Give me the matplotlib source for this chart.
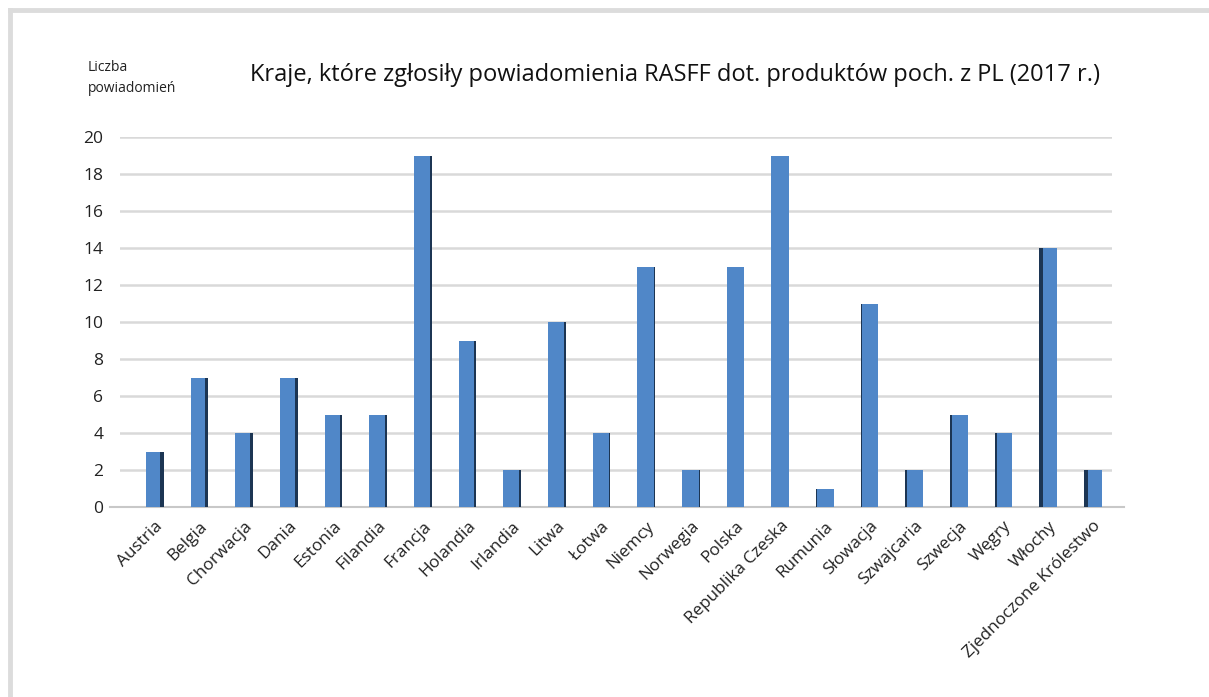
import matplotlib
matplotlib.use("Agg")
import matplotlib.pyplot as plt
from matplotlib.patches import Rectangle
from matplotlib.lines import Line2D

countries = ["Austria", "Belgia", "Chorwacja", "Dania", "Estonia", "Filandia",
             "Francja", "Holandia", "Irlandia", "Litwa", "Łotwa", "Niemcy",
             "Norwegia", "Polska", "Republika Czeska", "Rumunia", "Słowacja",
             "Szwajcaria", "Szwecja", "Węgry", "Włochy", "Zjednoczone Królestwo"]
values = [3, 7, 4, 7, 5, 5, 19, 9, 2, 10, 4, 13, 2, 13, 19, 1, 11, 2, 5, 4, 14, 2]
y_ticks = [0, 2, 4, 6, 8, 10, 12, 14, 16, 18, 20]

title = "Kraje, które zgłosiły powiadomienia RASFF dot. produktów poch. z PL (2017 r.)"
y_label = "Liczba\npowiadomień"

W, H = 1209, 697
fig = plt.figure(figsize=(W / 100, H / 100), dpi=100)
fig.patch.set_facecolor("white")

# outer frame (top and left edges)
fig.add_artist(Line2D([10 / W, 1.0], [1 - 10 / H, 1 - 10 / H], color="#DCDCDC", lw=3.5,
                      transform=fig.transFigure))
fig.add_artist(Line2D([10 / W, 10 / W], [0, 1 - 10 / H], color="#DCDCDC", lw=3.5,
                      transform=fig.transFigure))

left, right = 120, 1112
bottom, top = 507, 137
ax = fig.add_axes([left / W, 1 - bottom / H, (right - left) / W, (bottom - top) / H])

x = list(range(len(countries)))
bw = 0.40
face = "#5087C8"
dark = "#1C3553"

ax.bar(x, values, width=bw, color=face, zorder=3, edgecolor="none")

# dark side strips imitating the 3-D look
px = 1.0 / 44.67
for i, v in enumerate(values):
    c = 13.5
    if i < c:
        sw = 4 * (c - i) / c
        x0 = i + bw / 2 - sw * px
    else:
        sw = 4 * (i - c) / 7.5
        x0 = i - bw / 2
    if sw > 0.3:
        ax.add_patch(Rectangle((x0, 0), sw * px, v, facecolor=dark, edgecolor="none", zorder=4))

ax.set_xlim(-0.78, 21.43)
ax.set_ylim(0, 20)
ax.set_yticks(y_ticks)
ax.yaxis.grid(True, color="#D9D9D9", lw=1.8, zorder=0)
ax.set_axisbelow(True)
for s in ax.spines.values():
    s.set_visible(False)
ax.tick_params(axis="both", length=0)
ax.tick_params(axis="y", pad=12, labelsize=12.5, labelcolor="#222222")
ax.set_xticks(x)
ax.set_xticklabels(countries, rotation=45, ha="right", va="top", rotation_mode="anchor",
                   fontsize=12.3, color="#222222")
ax.tick_params(axis="x", pad=8)
for lab in ax.get_xticklabels() + ax.get_yticklabels():
    lab.set_family("Open Sans")

# floor line
ax.plot([-1.0, 21.7], [0, 0], color="#C8C8C8", lw=1.5, clip_on=False, zorder=2)

fig.text(250 / W, 1 - 75 / H, title, fontsize=17, family="Open Sans", color="#111111",
         ha="left", va="center")
fig.text(88 / W, 1 - 78 / H, y_label, fontsize=10, family="Open Sans", color="#222222",
         ha="left", va="center", linespacing=1.5)

fig.savefig("out.png", dpi=100, facecolor="white")
